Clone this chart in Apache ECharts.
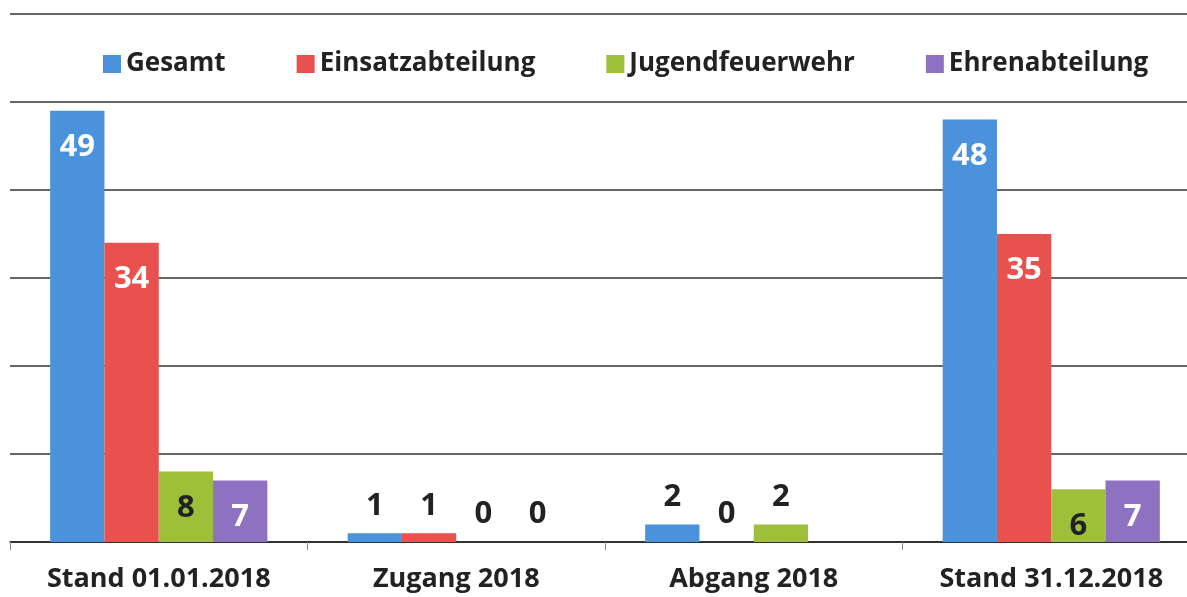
<!DOCTYPE html>
<html>
<head>
<meta charset="utf-8">
<script src="https://cdn.jsdelivr.net/npm/echarts@6/dist/echarts.min.js"></script>
<style>
  html, body { margin: 0; padding: 0; background: #fff; }
</style>
</head>
<body>

<div id="main" style="width: 1187px;height:597px;"></div>

<script type="text/javascript">
    // Kategorien und Werte
    var categories = ['Stand 01.01.2018', 'Zugang 2018', 'Abgang 2018', 'Stand 31.12.2018'];
    var seriesNames = ['Gesamt', 'Einsatzabteilung', 'Jugendfeuerwehr', 'Ehrenabteilung'];
    var gesamt = [49, 1, 2, 48];
    var einsatz = [34, 1, 0, 35];
    var jugend = [8, 0, 2, 6];
    var ehren = [7, 0, null, 7];   // Abgang: kein Wert angegeben

    var colors = ['#4a92dc', '#e9514f', '#9dbf3a', '#8e72c2'];
    var insideColors = ['#fff', '#fff', '#222', '#fff'];

    var myChart = echarts.init(document.getElementById('main'));

    // kleine Werte oberhalb, große Werte innen
    function makeData(values, idx) {
        return values.map(function (v) {
            if (v === null) return '-';
            if (v >= 5) {
                return {
                    value: v,
                    label: { position: 'insideTop', distance: 21, color: insideColors[idx] }
                };
            }
            return {
                value: v,
                label: { position: 'top', distance: 12, color: '#222' }
            };
        });
    }

    var all = [gesamt, einsatz, jugend, ehren];
    var series = all.map(function (vals, i) {
        return {
            name: seriesNames[i],
            type: 'bar',
            barGap: '0%',
            barCategoryGap: '27%',
            itemStyle: { color: colors[i] },
            label: {
                show: true,
                fontFamily: 'Open Sans',
                fontWeight: 'bold',
                fontSize: 31
            },
            data: makeData(vals, i)
        };
    });

    var option = {
        animation: false,
        color: colors,
        legend: {
            data: seriesNames,
            top: 43,
            left: 99,
            itemWidth: 18,
            itemHeight: 18,
            itemGap: 71,
            icon: 'rect',
            backgroundColor: '#fff',
            padding: [8, 4],
            textStyle: {
                fontFamily: 'Open Sans',
                fontWeight: 'bold',
                fontSize: 26,
                color: '#222'
            }
        },
        grid: {
            left: 10,
            top: 14,
            width: 1190,
            height: 528,
            outerBoundsMode: 'none'
        },
        xAxis: {
            type: 'category',
            data: categories,
            axisLine: { lineStyle: { color: '#222', width: 1.5 } },
            axisTick: { show: true, length: 8, lineStyle: { color: '#888' } },
            axisLabel: {
                margin: 24,
                fontFamily: 'Open Sans',
                fontWeight: 'bold',
                fontSize: 27,
                color: '#222'
            }
        },
        yAxis: {
            type: 'value',
            min: 0,
            max: 60,
            interval: 10,
            axisLabel: { show: false },
            axisLine: { show: false },
            axisTick: { show: false },
            splitLine: { lineStyle: { color: '#333', width: 1.5 } }
        },
        series: series
    };

    myChart.setOption(option);
</script>

</body>
</html>
